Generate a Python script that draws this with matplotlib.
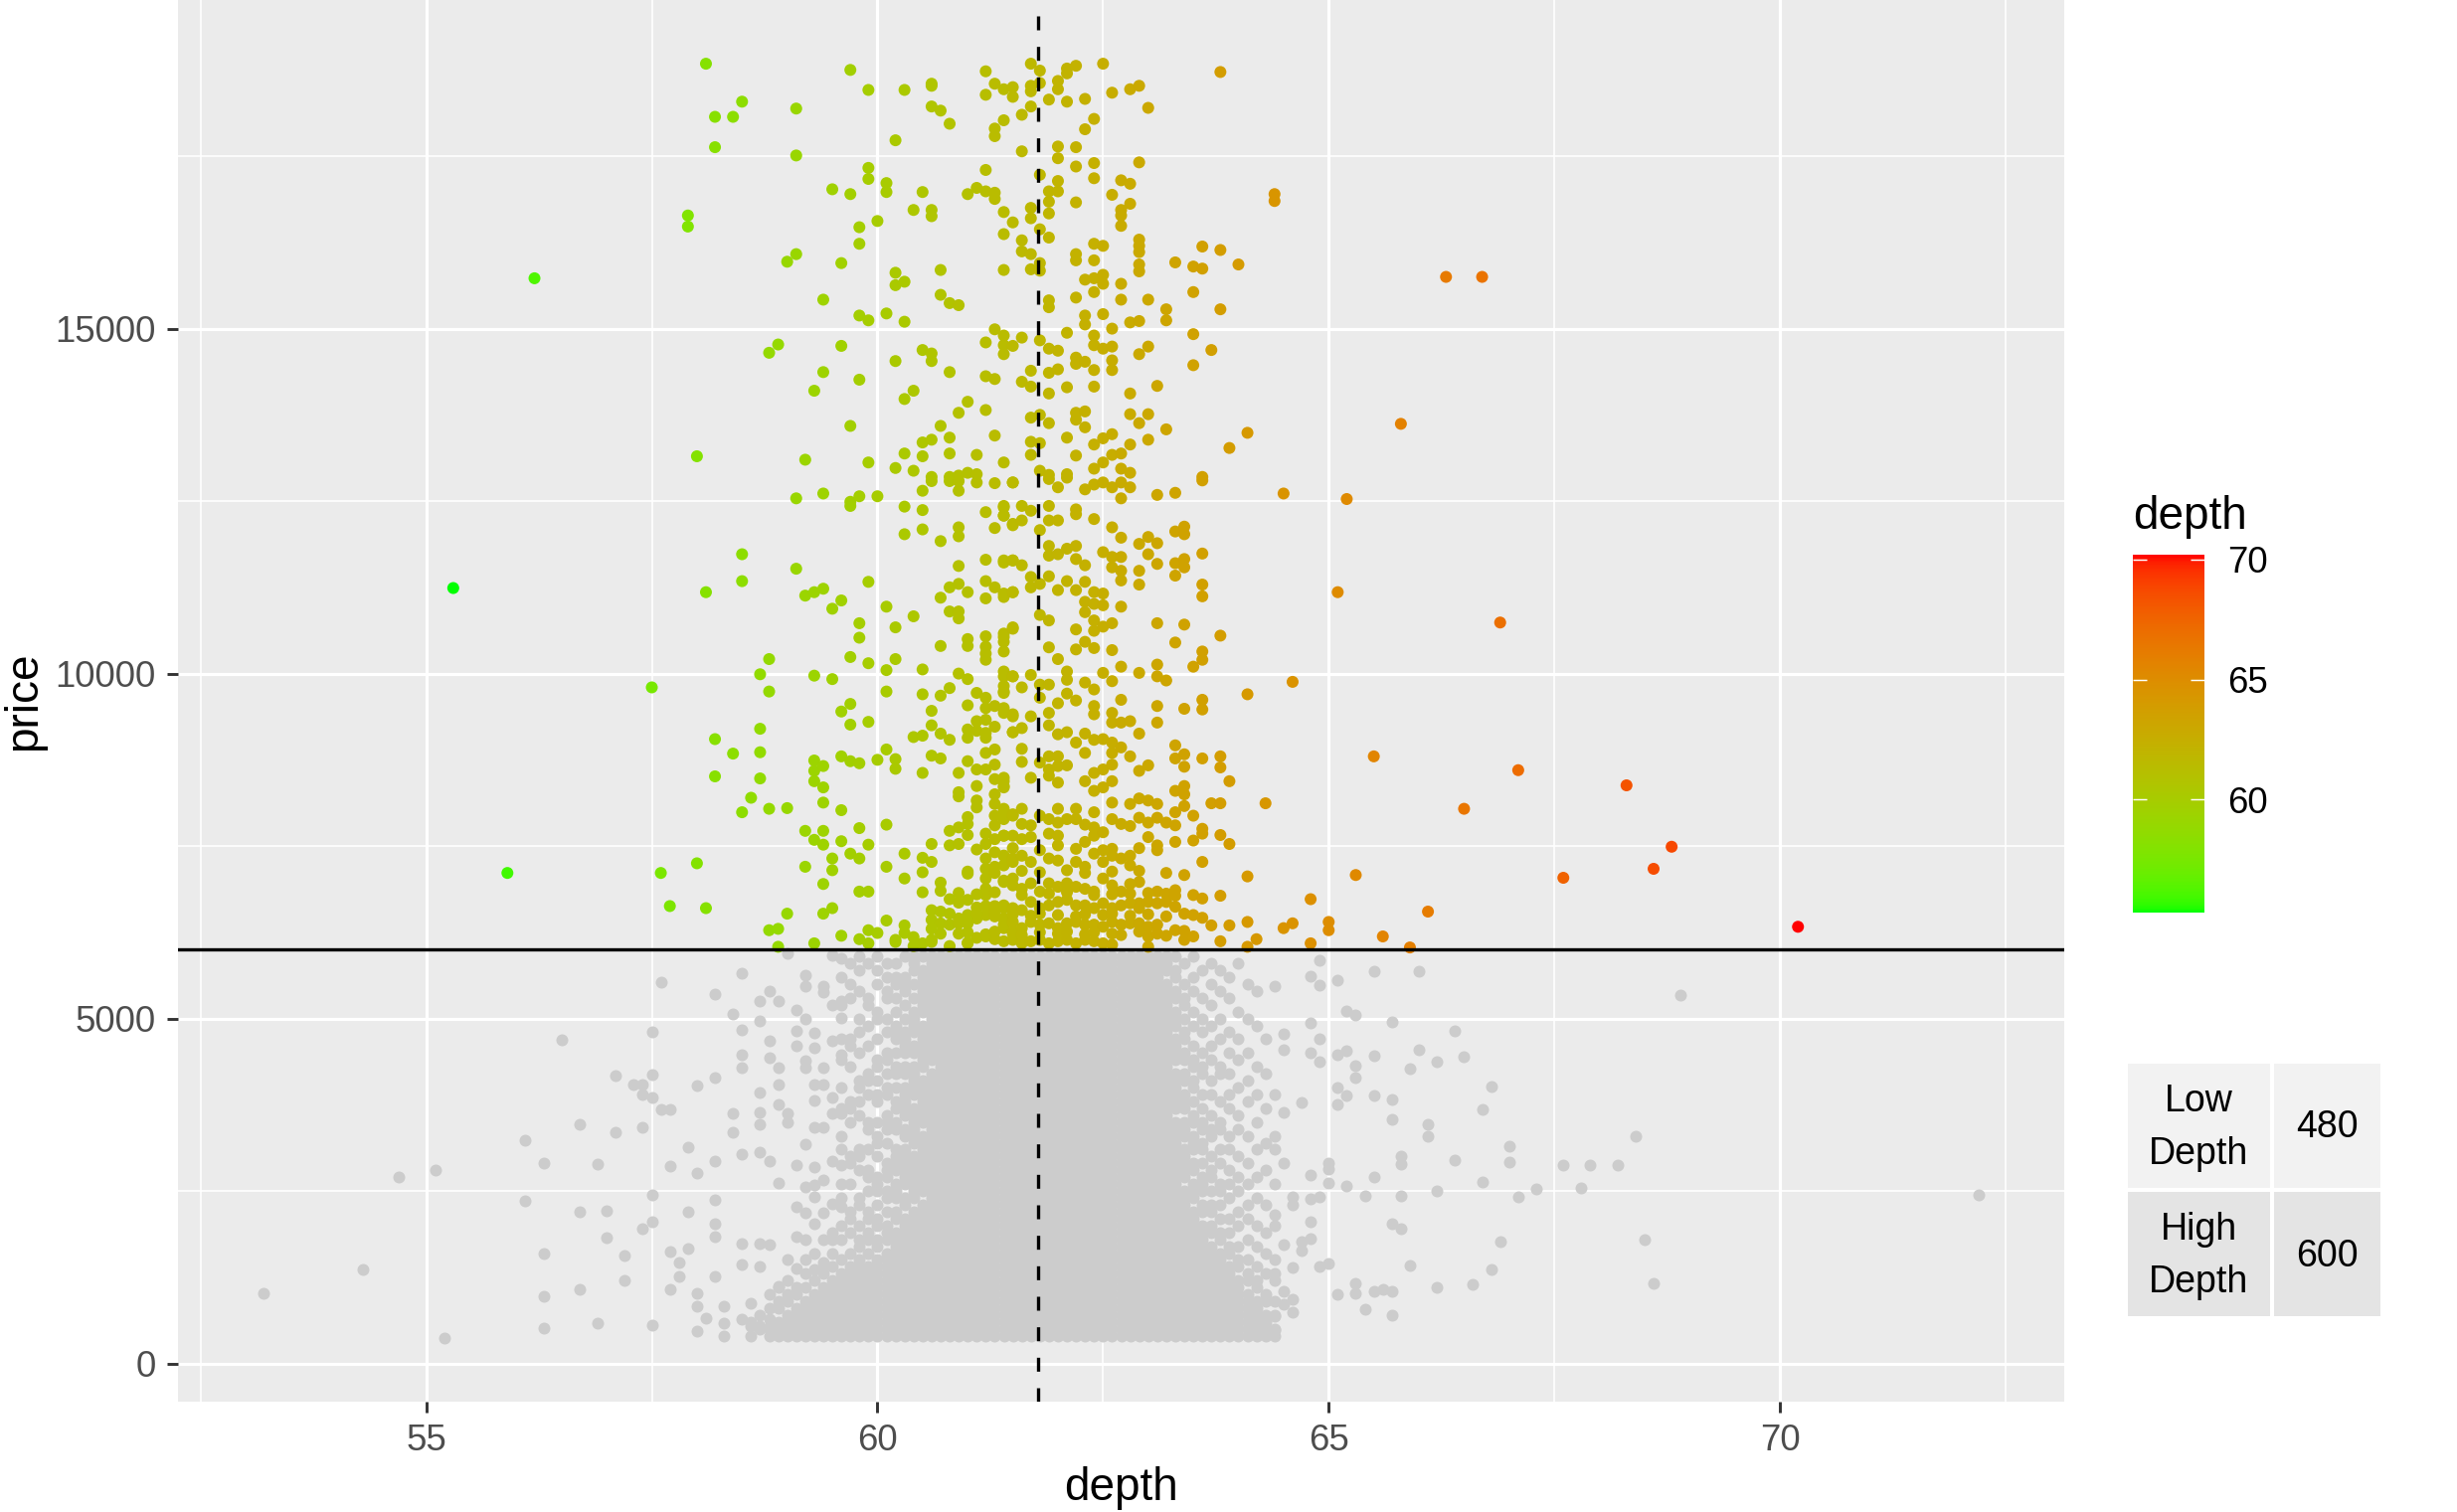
import numpy as np
import matplotlib
matplotlib.use("Agg")
import matplotlib.pyplot as plt
from matplotlib.colors import ListedColormap, Normalize
from matplotlib.patches import Rectangle

plt.rcParams['font.family'] = ['Liberation Sans', 'DejaVu Sans']

# ---------------- data ----------------
price_cut = 6000          # horizontal reference line
mean_depth = 61.78        # dashed vertical line
table_labels = ["Low\nDepth", "High\nDepth"]
table_counts = [480, 600]
x_major = [55, 60, 65, 70]
y_major = [0, 5000, 10000, 15000]
cbar_ticks = [60, 65, 70]

# high-price points (price > 6000): (depth, price)
hi_points = [
(55.3,11240),(55.9,7110),(56.2,15730),(66.7,15750),(66.9,10740),(67.1,8600),(68.3,8380),(68.8,7490),
(68.6,7170),(67.6,7040),(70.2,6330),
(58.1,18840),(59.7,18750),(59.9,18460),(60.3,18460),(60.6,18550),(60.6,18520),(61.2,18730),(61.3,18550),
(61.4,18470),(61.5,18500),(61.2,18390),(58.5,18290),(58.2,18070),(58.4,18070),(59.1,18190),(60.6,18220),
(60.7,18160),(60.8,17970),(61.4,18020),(61.3,17900),(61.3,17790),(58.2,17630),(60.2,17730),(59.1,17510),
(59.9,17330),(59.9,17170),(61.2,17300),(60.1,17110),(60.1,16980),(59.5,17020),(59.7,16950),(60.5,16980),
(61.0,16950),(61.1,17040),(61.2,16990),(61.3,16970),(61.3,16880),(57.9,16640),(57.9,16480),(60.4,16720),
(60.6,16720),(60.6,16630),(61.4,16690),(61.5,16540),(60.0,16560),(59.8,16470),(61.4,16370),(59.8,16230),
(59.1,16080),(59.0,15970),(59.6,15950),(60.2,15810),(60.2,15630),(60.3,15680),(60.7,15850),(61.4,15850),
(59.4,15420),(60.7,15490),(60.8,15370),(60.9,15340),(59.8,15190),(59.9,15120),(60.1,15220),(60.3,15100),
(61.3,14990),(61.4,14900),(61.4,14760),(61.4,14630),(61.5,14750),(61.2,14800),(58.9,14770),(58.8,14650),
(59.6,14750),(60.5,14690),(60.6,14640),(60.6,14530),(60.2,14530),(59.4,14370),(59.8,14260),(60.8,14370),
(61.2,14310),(61.3,14270),(59.3,14100),(60.4,14100),(60.3,13980),(61.0,13940),(60.9,13780),(61.2,13820),
(59.7,13590),(60.7,13590),(60.8,13420),(61.3,13450),(60.5,13350),(60.6,13390),(58.0,13150),(59.2,13100),
(59.9,13060),(60.3,13190),(60.5,13150),(60.8,13190),(61.1,13170),(61.4,13060),(60.2,12980),(60.4,12940),
(60.6,12850),(60.8,12850),(60.9,12870),(61.0,12910),(61.1,12890),
(61.7,18840),(61.8,18740),(61.8,18560),(62.1,18770),(62.1,18700),(62.2,18810),(62.5,18840),(63.8,18720),
(61.5,18360),(61.7,18520),(61.7,18440),(62.0,18590),(62.0,18470),(61.9,18320),(62.1,18290),(62.3,18330),
(62.6,18420),(62.8,18470),(62.9,18520),(63.0,18200),(61.7,18220),(61.6,18100),(62.4,18040),(62.3,17890),
(61.6,17570),(62.0,17640),(62.0,17470),(62.2,17630),(62.2,17350),(62.4,17400),(62.9,17410),(61.8,17230),
(62.4,17180),(62.0,17140),(61.9,16990),(62.0,16990),(62.7,17150),(62.8,17100),(62.6,16940),(64.4,16950),
(64.4,16850),(61.9,16840),(62.2,16830),(62.8,16810),(62.7,16720),(62.7,16640),(62.7,16490),(61.7,16750),
(61.7,16600),(61.9,16670),(61.8,16440),(61.9,16320),(61.6,16280),(61.6,16120),(61.7,16080),(62.2,16080),
(62.2,15990),(62.4,16230),(62.5,16200),(62.4,15990),(62.9,16290),(62.9,16200),(62.9,16110),(62.9,15930),
(62.9,15830),(63.6,16190),(63.8,16140),(63.3,15960),(63.5,15900),(63.6,15870),(64.0,15930),(66.3,15750),
(61.7,15860),(61.8,15950),(61.8,15840),(62.3,15710),(62.4,15730),(62.5,15780),(62.5,15650),(62.7,15650),
(62.4,15530),(63.5,15530),(61.9,15410),(61.9,15310),(62.2,15450),(62.7,15420),(63.0,15420),(63.2,15280),
(63.2,15120),(63.8,15280),(62.3,15190),(62.3,15060),(62.5,15210),(62.8,15090),(62.9,15110),(62.6,15000),
(61.6,14870),(61.8,14830),(62.1,14940),(62.4,14900),(62.4,14760),(62.5,14710),(62.6,14740),(61.9,14710),
(62.0,14680),(62.2,14580),(62.2,14490),(62.3,14520),(62.6,14540),(62.6,14400),(62.9,14630),(63.0,14740),
(63.5,14920),(63.7,14690),(63.5,14470),(61.7,14390),(61.9,14360),(62.0,14410),(62.4,14400),(61.6,14230),
(61.7,14160),(61.9,14060),(62.1,14150),(62.4,14160),(62.8,14060),(63.1,14170),(61.7,13710),(61.8,13750),
(61.9,13630),(62.2,13780),(62.2,13680),(62.3,13800),(62.3,13570),(62.8,13760),(62.9,13630),(63.0,13760),
(63.2,13540),(64.1,13490),(65.8,13620),(63.9,13270),(61.7,13360),(61.8,13340),(62.1,13420),(62.4,13320),
(62.5,13410),(62.6,13470),(62.8,13320),(63.0,13390),(61.7,13170),(62.2,13160),(62.6,13170),(62.7,13190),
(62.4,12970),(62.5,13060),(62.7,12970),(62.8,12910),(61.8,12940),(61.9,12880),(62.1,12890),(63.6,12850),
(60.6,12790),(60.8,12790),(60.9,12790),(60.9,12650),(61.1,12770),(61.3,12760),(61.5,12770),(60.5,12650),
(59.1,12540),(59.4,12610),(59.7,12490),(59.7,12430),(59.8,12570),(60.0,12570),(60.3,12420),(60.5,12370),
(61.2,12340),(61.4,12430),(61.4,12290),(60.3,12020),(60.5,12090),(60.7,11920),(60.9,12120),(60.9,11990),
(61.3,12110),(61.5,12150),(58.5,11730),(59.1,11520),(58.1,11180),(58.5,11340),(59.2,11130),(59.3,11180),
(59.4,11230),(59.5,10940),(59.6,11060),(59.9,11330),(60.1,10970),(60.4,10830),(60.9,11560),(61.2,11650),
(61.4,11610),(61.5,11640),(60.8,11250),(60.9,11300),(61.0,11180),(60.7,11100),(61.2,11340),(61.3,11250),
(61.2,11090),(61.4,11110),(61.5,11180),(59.8,10730),(59.8,10520),(60.2,10670),(60.8,10900),(60.9,10900),
(60.9,10800),(60.7,10400),(61.0,10500),(61.0,10400),(61.2,10540),(61.2,10390),(61.2,10290),(61.2,10200),
(61.4,10580),(61.4,10460),(61.4,10320),(61.5,10650),(58.8,10210),(59.7,10240),(59.9,10150),(60.2,10210),
(58.7,9990),(59.3,9970),(59.5,9920),(60.1,10050),(60.5,10060),(60.9,10000),(61.0,9920),(61.4,10030),
(61.5,9960),(57.5,9800),(58.8,9740),(60.1,9740),(60.5,9700),(60.7,9680),(60.8,9790),(61.1,9720),
(61.2,9650),(61.4,9820),(61.4,9720),(61.0,9540),(59.6,9450),(59.7,9560),(60.6,9460),(61.2,9500),
(61.3,9530),(61.4,9500),(61.5,9410),(59.7,9260),(59.9,9300),(61.1,9310),(61.2,9330),(58.7,9200),
(60.6,9250),(60.4,9080),(60.5,9100),(60.7,9130),(60.8,9040),(61.0,9190),(61.0,9070),(61.1,9170),
(61.2,9140),(61.2,9070),(61.3,9230),(61.5,9150),(58.2,9050),(58.4,8840),(58.7,8860),(60.1,8900),
(59.3,8740),(59.3,8590),(59.3,8440),(59.4,8660),(59.4,8350),(59.6,8800),(59.7,8730),(59.8,8700),
(60.0,8750),(60.2,8760),(60.2,8620),(60.6,8810),(60.7,8770),(60.5,8560),(61.0,8730),(61.2,8850),
(61.3,8900),(61.3,8680),(61.1,8610),(61.1,8370),(61.2,8610),(61.3,8470),(61.4,8490),(61.4,8370),
(60.9,8560),(58.2,8510),(58.7,8480),(58.6,8200),(58.5,7990),(58.8,8040),(59.0,8050),(59.4,8130),
(59.6,8020),(60.9,8280),(60.9,8220),(61.1,8160),(61.1,8060),(61.3,8250),(61.3,8110),(61.3,7940),
(61.4,8040),(61.4,7890),(61.5,7960),(59.2,7720),(59.4,7720),(59.8,7760),(60.1,7810),(59.3,7590),
(59.4,7520),(59.6,7570),(59.9,7520),(60.8,7720),(60.9,7770),(61.0,7920),(61.0,7820),(61.0,7660),
(60.6,7530),(60.8,7510),(60.9,7530),(61.2,7680),(61.2,7530),(61.3,7600),(61.4,7650),(61.5,7650),
(59.7,7390),(59.8,7320),(59.5,7320),(59.5,7150),(60.3,7390),(60.5,7330),(60.6,7270),(60.5,7120),
(60.1,7200),(59.2,7200),(58.0,7250),(57.6,7110),(60.3,7030),(61.0,7100),(59.4,6950),(60.7,6970),
(60.7,6850),(59.8,6840),(59.9,6840),(60.5,6830),(61.2,7320),(61.2,7170),(61.2,7030),(61.2,6880),
(61.2,6790),(61.4,7360),(61.4,7220),(61.4,7000),(61.5,7270),(61.5,6930),(61.3,7410),(61.3,7200),
(57.7,6630),(58.1,6600),(60.8,6730),(60.9,6680),(61.0,6720),(61.1,6610),(61.2,6630),(61.3,6630),
(61.4,6600),(61.4,6450),(59.0,6520),(59.4,6520),(59.5,6600),(60.6,6570),(60.7,6550),(60.6,6430),
(60.7,6380),(60.8,6360),(60.9,6450),(60.9,6380),(61.0,6380),(61.1,6450),(61.2,6500),(61.3,6550),
(61.4,6310),(61.2,6190),(61.1,6170),(61.3,6150),(61.0,6100),(61.5,6260),(58.8,6280),(58.9,6300),
(59.9,6280),(60.0,6240),(60.3,6240),(60.2,6140),(60.5,6090),(60.6,6140),(58.9,6040),(59.3,6090),
(59.9,6090),(60.2,6110),(60.6,6110),(61.0,6090),(59.6,6200),(60.4,6050),
(60.4,6180),(60.7,6230),(60.8,6050),(60.3,6350),(60.1,6420),(59.8,6150),(60.6,6300),(60.8,6520),
(61.5,12770),(61.9,12820),(62.0,12700),(62.1,12840),(62.3,12670),(62.4,12740),(62.5,12770),(62.6,12700),
(62.7,12770),(62.8,12700),(62.7,12540),(63.1,12590),(63.3,12620),(63.6,12800),(64.5,12610),(65.2,12530),
(61.4,12410),(61.4,12290),(61.5,12170),(61.6,12430),(61.6,12220),(61.7,12360),(61.9,12430),(61.9,12220),
(62.0,12220),(62.2,12380),(62.2,12310),(62.4,12240),(62.6,12120),(62.7,11970),(62.9,11880),(63.0,11980),
(63.1,11890),(63.3,12060),(63.4,12130),(63.4,12020),(65.1,11180),(61.8,12080),(61.4,11640),(61.5,11640),
(61.6,11570),(61.9,11850),(61.9,11710),(62.0,11730),(62.1,11810),(62.2,11850),(62.2,11660),(62.3,11570),
(62.5,11760),(62.6,11690),(62.7,11690),(62.6,11540),(62.7,11490),(62.7,11350),(62.9,11490),(63.0,11730),
(63.1,11590),(63.3,11600),(63.4,11660),(63.4,11540),(63.3,11420),(63.6,11740),
(61.4,11160),(61.5,11180),(61.7,11400),(61.7,11250),(61.8,11300),(61.9,11410),(62.0,11210),(62.1,11340),
(62.2,11210),(62.3,11330),(62.4,11180),(62.5,11160),(62.3,11040),(62.4,11010),(62.5,10990),(62.3,10890),
(62.7,10970),(62.9,11290),(63.6,11290),(63.6,11120),(61.9,10770),(61.8,10850),(61.4,10530),(61.5,10670),
(62.2,10640),(62.4,10770),(62.4,10620),(62.5,10680),(62.6,10730),(62.3,10460),(62.4,10370),(62.2,10350),
(62.6,10340),(63.1,10730),(63.4,10710),(63.3,10450),(63.8,10550),(61.9,10380),(62.0,10210),(63.6,10320),
(63.6,10200),(63.5,10100),(62.7,10100),(61.4,9960),(61.5,9960),(61.6,9800),(61.7,9980),(61.8,9840),
(61.9,9840),(62.1,10030),(62.1,9910),(62.3,9870),(62.4,9770),(62.5,10010),(62.6,9890),(62.9,10010),
(63.1,10130),(63.1,9960),(63.2,9900),(64.1,9700),(64.6,9880),(62.0,9570),(62.2,9610),(62.1,9710),
(61.8,9650),(61.4,9740),(62.7,9620),(63.1,9530),(63.4,9490),(63.6,9620),(63.6,9480),(62.4,9530),
(62.4,9410),(62.6,9430),(62.6,9290),(62.7,9290),(62.8,9310),(62.9,9130),(63.1,9290),(61.4,9430),
(61.5,9380),(61.7,9380),(61.9,9430),(61.9,9250),(62.0,9120),(62.1,9150),(62.2,9000),(62.3,9130),
(62.4,9040),(62.5,9050),(62.6,9000),(61.6,9210),(61.5,9150),(61.6,8910),(61.6,8720),(61.8,8710),
(61.9,8800),(62.0,8800),(61.9,8610),(62.0,8660),(62.1,8670),(62.3,8850),(62.4,8560),(62.5,8610),
(62.6,8850),(62.7,8930),(62.8,8800),(62.6,8680),(62.9,8590),(63.0,8670),(63.3,8960),(63.3,8770),
(63.4,8830),(63.4,8650),(63.6,8770),(63.8,8800),(63.8,8640),(65.5,8800),(63.9,8440),(61.4,8440),
(61.4,8350),(61.7,8490),(61.9,8520),(62.0,8420),(62.3,8440),(62.4,8300),(62.5,8350),(62.6,8440),
(62.6,8130),(62.8,8110),(62.9,8190),(63.0,8160),(63.1,8110),(63.3,8300),(63.4,8370),(63.4,8250),
(63.4,8080),(63.7,8120),(63.8,8120),(64.3,8120),(66.5,8040),
(61.4,7990),(61.5,7940),(61.6,8040),(61.7,7800),(61.8,7940),(61.9,7890),(62.0,8040),(62.0,7840),
(62.1,7890),(62.2,8040),(62.2,7890),(62.4,7990),(62.6,7890),(62.7,7820),(62.9,7910),(63.0,7840),
(63.1,7910),(63.2,7840),(63.3,7990),(63.3,7800),(63.5,7940),(63.6,7750),(63.6,7680),(63.8,7660),
(63.9,7530),(63.0,7630),(63.1,7510),(63.1,7440),(63.3,7560),(63.5,7580),(61.4,7650),(61.6,7600),
(61.7,7630),(61.9,7680),(62.0,7650),(62.0,7510),(62.3,7560),(62.4,7770),(62.4,7650),(62.5,7700),
(62.6,7460),(61.4,7360),(61.5,7320),(61.6,7360),(61.7,7270),(61.9,7320),(62.0,7290),(62.2,7270),
(62.3,7200),(62.4,7390),(62.5,7270),(62.6,7360),(62.7,7320),(62.8,7360),(62.8,7220),(63.6,7270),
(63.4,7080),(64.1,7060),(65.3,7080),(61.4,6980),(61.5,7030),(61.6,6880),(61.7,6960),(61.8,6840),
(61.9,6960),(62.0,6910),(62.1,6960),(62.2,6910),(62.3,6880),(62.4,6840),(62.5,7030),(62.6,6930),
(62.7,6840),(62.8,6810),(62.9,6980),(62.9,6670),(63.1,6840),(63.2,6810),(63.3,6860),(63.3,6620),
(63.5,6790),(63.6,6740),(63.8,6780),(63.4,6520),(64.8,6730),(66.1,6550),(61.4,6640),(61.5,6600),
(61.6,6570),(61.7,6690),(61.8,6600),(61.9,6640),(62.0,6690),(62.1,6720),(62.2,6640),(62.3,6640),
(62.4,6600),(62.5,6670),(62.6,6600),(62.7,6640),(62.8,6670),(62.9,6600),(63.0,6690),(63.1,6670),
(63.2,6690),(61.4,6360),(61.5,6400),(61.6,6310),(61.7,6400),(61.8,6360),(61.9,6380),(62.0,6310),
(62.1,6380),(62.2,6400),(62.3,6360),(62.4,6360),(62.5,6330),(62.6,6400),(62.7,6360),(62.8,6380),
(62.9,6380),(63.0,6330),(63.1,6360),(63.3,6280),(63.6,6460),(63.7,6350),(63.9,6350),(64.1,6400),
(64.5,6310),(64.6,6380),(65.0,6400),(65.0,6280),(65.6,6190),(61.4,6120),(61.5,6140),(61.6,6090),
(61.7,6120),(61.8,6140),(61.9,6090),(62.0,6120),(62.1,6140),(62.2,6090),(62.3,6140),(62.4,6120),
(62.5,6090),(62.6,6070),(63.0,6190),(63.0,6040),(63.4,6140),(63.5,6190),(63.8,6120),(64.1,6040),
(64.2,6150),(64.8,6090),(65.9,6030),
(60.9,6230),(61.0,6250),(61.2,6220),(61.3,6260),(61.5,6230),(61.6,6210),(61.8,6250),(62.0,6230),
(62.1,6260),(62.3,6220),(62.4,6250),(62.6,6230),(62.7,6210),(62.9,6260),(63.1,6230),(63.2,6200),
(63.4,6270),(61.0,6500),(61.1,6520),(61.3,6480),(61.5,6510),(61.7,6490),(61.8,6520),(62.0,6500),
(62.2,6480),(62.3,6510),(62.5,6500),(62.6,6520),(62.8,6490),(63.0,6510),(63.2,6480),(63.5,6500),
(60.9,6820),(61.1,6800),(61.3,6830),(61.6,6790),(61.9,6810),(62.1,6830),(62.4,6790),(62.6,6800),
(62.8,6950),(63.0,6820),(63.3,6780),(61.0,7130),(61.3,7110),(61.6,7140),(61.8,7120),(62.1,7150),
(62.3,7110),(62.6,7130),(62.9,7140),(63.2,7110),(61.1,7450),(61.5,7470),(61.8,7440),(62.2,7460),
(62.5,7440),(62.9,7470),(61.3,7800),(61.6,7820),(62.3,7810),(62.8,7790),
]

# low-price points (price <= 6000) outside the dense core: (depth, price)
grey_points = [
(53.2,1010),(54.3,1360),(54.7,2700),(55.1,2800),(55.2,370),(56.1,3230),(56.1,2350),(56.3,2900),
(56.3,1600),(56.3,980),(56.3,510),(56.5,4690),(56.7,3460),(56.7,2200),(56.7,1070),(56.9,2890),
(56.9,590),(57.0,2210),(57.0,1820),(57.1,4170),(57.1,3350),(57.2,1560),(57.2,1200),(57.3,4040),
(57.4,4050),(57.4,3900),(57.4,3430),(57.4,1960),(57.5,4800),(57.5,4180),(57.5,3860),(57.5,2440),
(57.5,2060),(57.5,550),(57.6,5520),(57.6,3690),(57.7,3690),(57.7,2860),(57.7,1620),(57.7,1070),
(57.8,1460),(57.8,1260),(57.9,3140),(57.9,2200),(57.9,1670),(58.0,4030),(58.0,2760),(58.0,1020),
(58.0,830),(58.0,470),(58.1,660),(58.2,5360),(58.2,4150),(58.2,2940),(58.2,2370),(58.2,2030),
(58.2,1840),(58.2,1260),(58.3,830),(58.3,590),(58.3,400),(58.4,5070),(58.4,3630),(58.4,3350),
(58.5,5650),(58.5,4830),(58.5,4480),(58.5,4290),(58.5,3040),(58.5,1740),(58.5,1430),(58.5,640),
(58.6,870),(58.6,540),(58.7,5250),(58.7,4970),(58.7,3930),(58.7,3640),(58.7,3470),(58.7,3070),
(58.7,1740),(58.7,1410),(58.7,540),(58.8,5400),(58.8,4670),(58.8,4430),(58.8,2940),(58.8,1720),
(58.8,640),(58.8,520),(58.9,5250),(58.9,4290),(58.9,4050),(58.9,3760),(58.9,2610),(58.9,1120),
(59.0,5950),(59.0,3630),(59.0,3490),(59.0,1500),(59.1,5130),(59.1,4820),(59.1,4600),(59.1,2870),
(59.1,2270),(59.1,1840),(59.1,1380),(59.2,5630),(59.2,5470),(59.2,4990),(59.2,4390),(59.2,4290),
(59.2,3180),(59.2,2560),(59.2,2180),(59.2,1790),(59.2,1500),(59.3,4790),(59.3,4580),(59.3,4050),
(59.3,3810),(59.3,3430),(59.3,2850),(59.3,2590),(59.3,2420),(59.3,2030),(59.3,1600),(59.3,1360),
(59.4,5390),(59.4,5470),(59.4,4290),(59.4,4050),(59.4,3430),(59.4,2660),(59.4,2180),(59.4,1790),
(59.4,1460),(59.5,5920),(59.5,5200),(59.5,4670),(59.5,3860),(59.5,3620),(59.5,2940),(59.5,2320),
(59.5,1790),(59.6,5870),(59.6,5250),(59.6,5010),(59.6,4480),(59.6,3620),(59.6,2870),(59.6,2270),
(64.4,5470),(64.8,5610),(64.9,5850),(64.9,5480),(65.1,5560),(65.5,5680),(66.0,5680),(65.2,5110),
(65.3,5050),(64.8,4940),(64.9,4710),(65.7,4950),(66.4,4820),(64.5,4780),(64.5,4550),(64.8,4500),
(64.9,4380),(65.1,4480),(65.2,4530),(65.5,4460),(66.0,4550),(66.2,4380),(66.5,4440),(65.3,4310),
(65.3,4150),(65.9,4280),(66.8,4010),(65.1,4000),(65.2,3880),(65.1,3750),(65.5,3880),(65.7,3820),
(65.7,3540),(64.7,3790),(64.5,3640),(66.7,3680),(66.1,3470),(66.1,3290),(67.0,3150),(68.4,3290),
(67.0,2920),(67.6,2870),(67.9,2870),(68.2,2870),(66.4,2950),(65.8,3000),(65.8,2890),(65.0,2910),
(65.0,2820),(64.8,2730),(65.5,2700),(66.7,2630),(65.0,2610),(65.2,2570),(67.8,2540),(67.3,2530),
(66.2,2500),(65.4,2430),(65.8,2430),(67.1,2410),(64.8,2380),(64.9,2410),(64.6,2420),(64.6,2300),
(64.4,2150),(64.8,2060),(65.7,2030),(65.8,1950),(68.5,1790),(66.9,1770),(64.8,1810),(64.7,1770),
(64.7,1640),(64.5,1720),(65.0,1450),(64.9,1410),(65.9,1420),(66.8,1370),(64.6,1390),(68.6,1160),
(66.6,1140),(66.2,1100),(65.3,1160),(65.3,1020),(65.1,1000),(65.5,1050),(65.6,1070),(65.7,1050),
(65.4,780),(65.7,700),(64.6,930),(64.6,740),(64.5,1050),(64.4,690),(64.4,480),(68.9,5340),
(72.2,2450),(64.4,3100),(64.5,2900),(64.4,1300),(64.5,860),
]

# dense core: (depth, list of prices in hundreds of dollars)
core_cols = [
(58.6,[4,6]),
(58.7,[5,7]),
(58.8,[4,5,8,10]),
(58.9,[4,5,6,8,9,11]),
(59.0,[4,5,6,7,9,10,12]),
(59.1,[4,5,6,7,8,10,11]),
(59.2,[4,5,6,7,8,9,11,13]),
(59.3,[4,5,6,7,8,9,10,12]),
(59.4,[4,5,6,7,8,9,10,11,13,14]),
(59.5,[4,5,6,7,8,9,10,11,12,14,16,19]),
(59.6,[4,5,6,7,8,9,10,11,12,13,15,18,20,24,26,31,33,37,40,44,47,52,56]),
(59.7,[4,5,6,7,8,9,10,11,12,13,14,16,19,21,22,26,29,30,35,37,38,43,46,47,53,55,58]),
(59.8,[4,5,6,7,8,9,10,11,12,13,14,15,17,18,20,23,24,28,30,31,36,38,40,41,45,48,50,54,57,59]),
(59.9,[4,5,6,7,8,9,10,11,12,13,14,16,18,19,21,22,25,27,28,31,34,35,39,41,42,46,49,52,53,58]),
(60.0,[4,5,6,7,8,9,10,11,12,13,14,15,17,18,20,21,23,25,26,27,30,32,33,35,38,39,41,43,44,47,50,51,55,57,59]),
(60.1,[4,5,6,7,8,9,10,11,12,13,14,15,16,18,19,20,22,24,25,27,28,29,32,34,35,36,39,40,42,44,45,48,50,53,54,56,58]),
(60.2,[4,5,6,7,8,9,10,11,12,13,14,15,16,17,18,19,21,22,24,25,26,28,29,30,31,34,35,37,38,40,42,43,45,47,48,49,51,53,55,56,58]),
(60.3,[4,5,6,7,8,9,10,11,12,13,14,15,16,17,18,19,20,21,23,24,26,27,28,29,30,31,33,34,36,37,38,39,40,42,43,45,46,47,48,50,52,54,55,56,59]),
(60.4,[4,5,6,7,8,9,10,11,12,13,14,15,16,17,18,19,20,21,22,24,25,26,27,28,29,30,32,33,34,35,36,37,39,40,41,42,43,45,46,48,49,50,51,53,55,57,58,59]),
(60.5,[4,5,6,7,8,9,10,11,12,13,14,15,16,17,18,19,20,21,22,23,25,26,27,28,29,30,31,32,33,35,36,37,38,39,40,41,43,44,45,46,47,48,49,51,52,53,54,55,56,57,59]),
(60.6,[4,5,6,7,8,9,10,11,12,13,14,15,16,17,18,19,20,21,22,23,24,25,26,27,28,29,30,31,32,33,34,35,36,37,38,39,40,41,42,44,45,46,47,48,49,50,51,52,53,54,55,56,57,58,59]),
(60.7,[4,5,6,7,8,9,10,11,12,13,14,15,16,17,18,19,20,21,22,23,24,25,26,27,28,29,30,31,32,33,34,35,36,37,38,39,40,41,42,43,44,45,46,47,48,49,50,51,52,53,54,55,56,57,58,59]),
(60.8,[4,5,6,7,8,9,10,11,12,13,14,15,16,17,18,19,20,21,22,23,24,25,26,27,28,29,30,31,32,33,34,35,36,37,38,39,40,41,42,43,44,45,46,47,48,49,50,51,52,53,54,55,56,57,58,59]),
(60.9,[4,5,6,7,8,9,10,11,12,13,14,15,16,17,18,19,20,21,22,23,24,25,26,27,28,29,30,31,32,33,34,35,36,37,38,39,40,41,42,43,44,45,46,47,48,49,50,51,52,53,54,55,56,57,58,59]),
(61.0,[4,5,6,7,8,9,10,11,12,13,14,15,16,17,18,19,20,21,22,23,24,25,26,27,28,29,30,31,32,33,34,35,36,37,38,39,40,41,42,43,44,45,46,47,48,49,50,51,52,53,54,55,56,57,58,59]),
(61.1,[4,5,6,7,8,9,10,11,12,13,14,15,16,17,18,19,20,21,22,23,24,25,26,27,28,29,30,31,32,33,34,35,36,37,38,39,40,41,42,43,44,45,46,47,48,49,50,51,52,53,54,55,56,57,58,59]),
(61.2,[4,5,6,7,8,9,10,11,12,13,14,15,16,17,18,19,20,21,22,23,24,25,26,27,28,29,30,31,32,33,34,35,36,37,38,39,40,41,42,43,44,45,46,47,48,49,50,51,52,53,54,55,56,57,58,59]),
(61.3,[4,5,6,7,8,9,10,11,12,13,14,15,16,17,18,19,20,21,22,23,24,25,26,27,28,29,30,31,32,33,34,35,36,37,38,39,40,41,42,43,44,45,46,47,48,49,50,51,52,53,54,55,56,57,58,59]),
(61.4,[4,5,6,7,8,9,10,11,12,13,14,15,16,17,18,19,20,21,22,23,24,25,26,27,28,29,30,31,32,33,34,35,36,37,38,39,40,41,42,43,44,45,46,47,48,49,50,51,52,53,54,55,56,57,58,59]),
(61.5,[4,5,6,7,8,9,10,11,12,13,14,15,16,17,18,19,20,21,22,23,24,25,26,27,28,29,30,31,32,33,34,35,36,37,38,39,40,41,42,43,44,45,46,47,48,49,50,51,52,53,54,55,56,57,58,59]),
(61.6,[4,5,6,7,8,9,10,11,12,13,14,15,16,17,18,19,20,21,22,23,24,25,26,27,28,29,30,31,32,33,34,35,36,37,38,39,40,41,42,43,44,45,46,47,48,49,50,51,52,53,54,55,56,57,58,59]),
(61.7,[4,5,6,7,8,9,10,11,12,13,14,15,16,17,18,19,20,21,22,23,24,25,26,27,28,29,30,31,32,33,34,35,36,37,38,39,40,41,42,43,44,45,46,47,48,49,50,51,52,53,54,55,56,57,58,59]),
(61.8,[4,5,6,7,8,9,10,11,12,13,14,15,16,17,18,19,20,21,22,23,24,25,26,27,28,29,30,31,32,33,34,35,36,37,38,39,40,41,42,43,44,45,46,47,48,49,50,51,52,53,54,55,56,57,58,59]),
(61.9,[4,5,6,7,8,9,10,11,12,13,14,15,16,17,18,19,20,21,22,23,24,25,26,27,28,29,30,31,32,33,34,35,36,37,38,39,40,41,42,43,44,45,46,47,48,49,50,51,52,53,54,55,56,57,58,59]),
(62.0,[4,5,6,7,8,9,10,11,12,13,14,15,16,17,18,19,20,21,22,23,24,25,26,27,28,29,30,31,32,33,34,35,36,37,38,39,40,41,42,43,44,45,46,47,48,49,50,51,52,53,54,55,56,57,58,59]),
(62.1,[4,5,6,7,8,9,10,11,12,13,14,15,16,17,18,19,20,21,22,23,24,25,26,27,28,29,30,31,32,33,34,35,36,37,38,39,40,41,42,43,44,45,46,47,48,49,50,51,52,53,54,55,56,57,58,59]),
(62.2,[4,5,6,7,8,9,10,11,12,13,14,15,16,17,18,19,20,21,22,23,24,25,26,27,28,29,30,31,32,33,34,35,36,37,38,39,40,41,42,43,44,45,46,47,48,49,50,51,52,53,54,55,56,57,58,59]),
(62.3,[4,5,6,7,8,9,10,11,12,13,14,15,16,17,18,19,20,21,22,23,24,25,26,27,28,29,30,31,32,33,34,35,36,37,38,39,40,41,42,43,44,45,46,47,48,49,50,51,52,53,54,55,56,57,58,59]),
(62.4,[4,5,6,7,8,9,10,11,12,13,14,15,16,17,18,19,20,21,22,23,24,25,26,27,28,29,30,31,32,33,34,35,36,37,38,39,40,41,42,43,44,45,46,47,48,49,50,51,52,53,54,55,56,57,58,59]),
(62.5,[4,5,6,7,8,9,10,11,12,13,14,15,16,17,18,19,20,21,22,23,24,25,26,27,28,29,30,31,32,33,34,35,36,37,38,39,40,41,42,43,44,45,46,47,48,49,50,51,52,53,54,55,56,57,58,59]),
(62.6,[4,5,6,7,8,9,10,11,12,13,14,15,16,17,18,19,20,21,22,23,24,25,26,27,28,29,30,31,32,33,34,35,36,37,38,39,40,41,42,43,44,45,46,47,48,49,50,51,52,53,54,55,56,57,58,59]),
(62.7,[4,5,6,7,8,9,10,11,12,13,14,15,16,17,18,19,20,21,22,23,24,25,26,27,28,29,30,31,32,33,34,35,36,37,38,39,40,41,42,43,44,45,46,47,48,49,50,51,52,53,54,55,56,57,58,59]),
(62.8,[4,5,6,7,8,9,10,11,12,13,14,15,16,17,18,19,20,21,22,23,24,25,26,27,28,29,30,31,32,33,34,35,36,37,38,39,40,41,42,43,44,45,46,47,48,49,50,51,52,53,54,55,56,57,58,59]),
(62.9,[4,5,6,7,8,9,10,11,12,13,14,15,16,17,18,19,20,21,22,23,24,25,26,27,28,29,30,31,32,33,34,35,36,37,38,39,40,41,42,43,44,45,46,47,48,49,50,51,52,53,54,55,56,57,58,59]),
(63.0,[4,5,6,7,8,9,10,11,12,13,14,15,16,17,18,19,20,21,22,23,24,25,26,27,28,29,30,31,32,33,34,35,36,37,38,39,40,41,42,43,44,45,46,47,48,49,50,51,52,53,54,55,56,57,58,59]),
(63.1,[4,5,6,7,8,9,10,11,12,13,14,15,16,17,18,19,20,21,22,23,24,25,26,27,28,29,30,31,32,33,34,35,36,37,38,39,40,41,42,43,44,45,46,47,48,49,50,51,52,53,54,55,56,57,58,59]),
(63.2,[4,5,6,7,8,9,10,11,12,13,14,15,16,17,18,19,20,21,22,23,24,25,26,27,28,29,30,31,32,33,34,35,36,37,38,39,40,41,42,43,44,45,46,47,48,49,50,51,52,53,54,55,57,58,59]),
(63.3,[4,5,6,7,8,9,10,11,12,13,14,15,16,17,18,19,20,21,22,23,24,25,26,27,28,29,30,31,32,33,34,35,37,38,39,40,41,42,44,45,46,47,49,50,51,53,54,56,57,59]),
(63.4,[4,5,6,7,8,9,10,11,12,13,14,15,16,17,18,19,20,21,22,23,24,25,27,28,29,30,31,33,34,35,37,38,39,41,42,44,45,47,48,50,52,53,55,58]),
(63.5,[4,5,6,7,8,9,10,11,12,13,14,15,16,17,18,19,20,21,22,24,25,26,28,29,31,32,33,35,36,38,40,41,43,44,46,49,51,54,56,59]),
(63.6,[4,5,6,7,8,9,10,11,12,13,14,15,16,17,18,19,20,22,23,25,26,27,29,31,32,34,35,37,39,42,43,45,48,50,53,57]),
(63.7,[4,5,6,7,8,9,10,11,12,13,14,15,16,17,19,20,22,23,25,27,28,30,33,34,36,39,41,44,46,49,52,55,58]),
(63.8,[4,5,6,7,8,9,10,11,12,13,14,15,16,18,19,21,23,25,26,29,31,34,35,38,42,43,47,50,54,57]),
(63.9,[4,5,6,7,8,9,10,11,12,13,14,16,17,19,21,24,26,28,31,33,37,39,42,45,48,53,56]),
(64.0,[4,5,6,7,8,9,10,11,12,14,15,17,20,22,25,27,30,34,36,40,44,47,51,58]),
(64.1,[4,5,6,7,8,9,10,12,13,15,18,21,23,26,29,33,38,41,45,50,55]),
(64.2,[4,5,6,7,8,9,11,12,14,17,20,24,27,31,35,39,43,49,54]),
(64.3,[4,5,6,7,9,10,13,16,19,23,28,32,37,42,47]),
(64.4,[4,5,7,9,12,15,20,26,33,39]),
]

# ---------------- colours ----------------
GREY = '#CCCCCC'
M = np.array([[0.4124564, 0.3575761, 0.1804375],
              [0.2126729, 0.7151522, 0.0721750],
              [0.0193339, 0.1191920, 0.9503041]])
WP = np.array([0.95047, 1.0, 1.08883])

def srgb_to_lab(c):
    c = np.asarray(c, float)
    lin = np.where(c <= 0.04045, c / 12.92, ((c + 0.055) / 1.055) ** 2.4)
    t = (M @ lin) / WP
    f = np.where(t > (6 / 29) ** 3, np.cbrt(t), t / (3 * (6 / 29) ** 2) + 4 / 29)
    return np.array([116 * f[1] - 16, 500 * (f[0] - f[1]), 200 * (f[1] - f[2])])

def lab_to_srgb(lab):
    L, a, b = lab
    fy_ = (L + 16) / 116
    fx_ = fy_ + a / 500
    fz_ = fy_ - b / 200
    def finv(f):
        return np.where(f > 6 / 29, f ** 3, 3 * (6 / 29) ** 2 * (f - 4 / 29))
    xyz = np.array([finv(fx_), finv(fy_), finv(fz_)]) * WP[:, None]
    lin = np.clip(np.linalg.inv(M) @ xyz, 0, 1)
    c = np.where(lin <= 0.0031308, 12.92 * lin, 1.055 * lin ** (1 / 2.4) - 0.055)
    return np.clip(c, 0, 1)

lo_lab = srgb_to_lab([0, 1, 0])
hi_lab = srgb_to_lab([1, 0, 0])
tt = np.linspace(0, 1, 256)
labs = lo_lab[:, None] * (1 - tt) + hi_lab[:, None] * tt
cmap = ListedColormap(lab_to_srgb(labs).T)

# ---------------- assemble ----------------
hd = np.array([p[0] for p in hi_points])
hp = np.array([p[1] for p in hi_points])
gd = [p[0] for p in grey_points]
gp = [p[1] for p in grey_points]
for d, plist in core_cols:
    for v in plist:
        gd.append(d)
        gp.append(v * 100)
gd = np.array(gd)
gp = np.array(gp)
norm = Normalize(vmin=hd.min(), vmax=hd.max())

# ---------------- figure ----------------
W, H, DPI = 2471, 1521, 300
fig = plt.figure(figsize=(W / DPI, H / DPI), dpi=DPI)
def fx(px): return px / W
def fy(py): return 1 - py / H

ax = fig.add_axes([fx(179), fy(1410), fx(2076) - fx(179), fy(0) - fy(1410)])
ax.set_facecolor('#EBEBEB')
for s in ax.spines.values():
    s.set_visible(False)

ms = 8.3
ax.scatter(gd, gp, s=ms, c=GREY, linewidths=0, zorder=2)
sc = ax.scatter(hd, hp, s=ms, c=hd, cmap=cmap, norm=norm, linewidths=0, zorder=3)
ax.axhline(price_cut, color='black', lw=0.8, zorder=4)
ax.axvline(mean_depth, color='black', lw=0.8, dashes=(4.2, 5.0), zorder=4)

all_d = np.concatenate([gd, hd]); all_p = np.concatenate([gp, hp])
dr = all_d.max() - all_d.min(); pr = all_p.max() - all_p.min()
ax.set_xlim(all_d.min() - 0.05 * dr, all_d.max() + 0.05 * dr)
ax.set_ylim(all_p.min() - 0.05 * pr, all_p.max() + 0.05 * pr)

ax.set_xticks(x_major)
ax.set_xticks([x - 2.5 for x in x_major] + [x_major[-1] + 2.5], minor=True)
ax.set_yticks(y_major)
ax.set_yticks([y + 2500 for y in y_major], minor=True)
ax.set_yticklabels([str(v) for v in y_major])
ax.grid(which='major', color='white', lw=0.75, zorder=0)
ax.grid(which='minor', color='white', lw=0.4, zorder=0)
ax.set_axisbelow(True)
ax.tick_params(which='major', length=2.75, width=0.7, color='#333333',
               labelsize=8.8, labelcolor='#4D4D4D', pad=2.6)
ax.tick_params(which='minor', length=0)

fig.text(fx(1127), fy(1497), 'depth', ha='center', va='center', fontsize=11)
fig.text(fx(24), fy(705), 'price', ha='center', va='center', rotation=90, fontsize=11)

# colour bar
cax = fig.add_axes([fx(2145), fy(918), fx(2217) - fx(2145), fy(558) - fy(918)])
cb = fig.colorbar(sc, cax=cax, ticks=cbar_ticks)
cb.outline.set_visible(False)
cax.tick_params(length=0, labelsize=8.8, pad=5.5, labelcolor='black')
for v in cbar_ticks:
    cax.hlines(v, 0, 0.2, colors='white', lw=0.35, transform=cax.get_yaxis_transform())
    cax.hlines(v, 0.8, 1.0, colors='white', lw=0.35, transform=cax.get_yaxis_transform())
fig.text(fx(2145), fy(520), 'depth', ha='left', va='center', fontsize=11)

# count table
col_x = [(2140, 2283), (2287, 2394)]
row_y = [(1070, 1195), (1199, 1324)]
fills = ['#F2F2F2', '#E4E4E4']
for i, (lab, cnt) in enumerate(zip(table_labels, table_counts)):
    y0, y1 = row_y[i]
    for j, txt in enumerate([lab, str(cnt)]):
        x0, x1 = col_x[j]
        fig.patches.append(Rectangle((fx(x0), fy(y1)), fx(x1) - fx(x0), fy(y0) - fy(y1),
                                     transform=fig.transFigure, facecolor=fills[i],
                                     edgecolor='none', zorder=1))
        fig.text(fx((x0 + x1) / 2), fy((y0 + y1) / 2 + 2), txt, ha='center', va='center',
                 fontsize=9, linespacing=1.62, zorder=2)

fig.savefig('out.png', dpi=DPI, facecolor='white')
